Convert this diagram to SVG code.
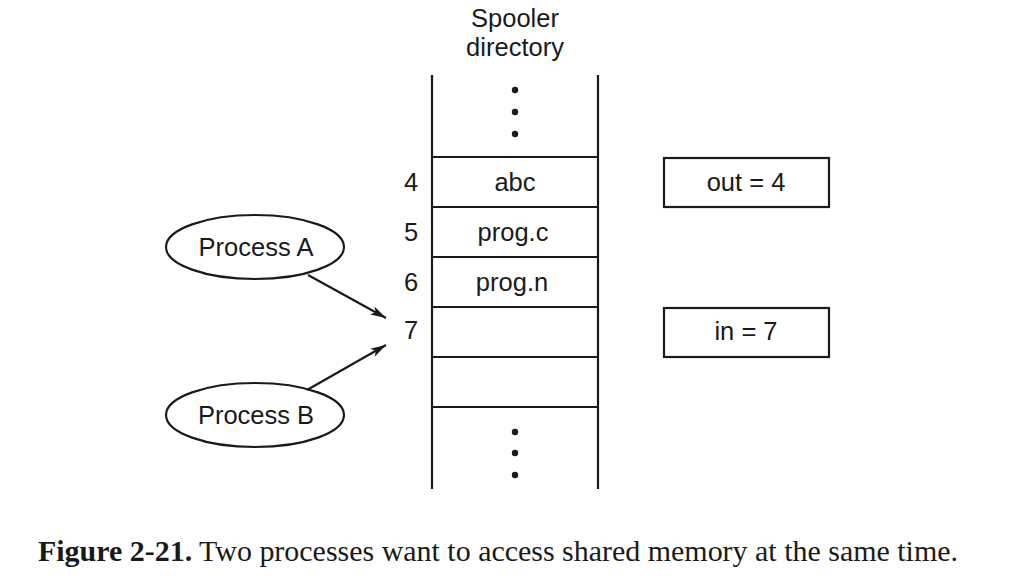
<svg xmlns="http://www.w3.org/2000/svg" width="1012" height="582" viewBox="0 0 1012 582">
<defs>
<style>
.t{font-family:"Liberation Sans",Arial,sans-serif;font-size:25.5px;fill:#1a1a1a;text-anchor:middle}
.ln{stroke:#1a1a1a;stroke-width:2.2;fill:none}
.dot{fill:#1a1a1a}
.cap{font-family:"Liberation Serif","Times New Roman",serif;font-size:29px;fill:#1a1a1a}
</style>
<marker id="ah" viewBox="0 0 12 10" refX="12" refY="5" markerWidth="16" markerHeight="13" markerUnits="userSpaceOnUse" orient="auto">
<path d="M0,1.5 L12,5 L0,8.5 L3,5 Z" fill="#1a1a1a"/>
</marker>
</defs>
<rect width="1012" height="582" fill="#fff"/>
<g id="spooler">
<text class="t" x="515" y="27">Spooler</text>
<text class="t" x="515" y="56">directory</text>
<line class="ln" x1="432" y1="75" x2="432" y2="489"/>
<line class="ln" x1="598" y1="75" x2="598" y2="489"/>
<line class="ln" x1="432" y1="157" x2="598" y2="157"/>
<line class="ln" x1="432" y1="207" x2="598" y2="207"/>
<line class="ln" x1="432" y1="257" x2="598" y2="257"/>
<line class="ln" x1="432" y1="307" x2="598" y2="307"/>
<line class="ln" x1="432" y1="357" x2="598" y2="357"/>
<line class="ln" x1="432" y1="407" x2="598" y2="407"/>
<circle class="dot" cx="515" cy="90" r="3.2"/>
<circle class="dot" cx="515" cy="112" r="3.2"/>
<circle class="dot" cx="515" cy="134" r="3.2"/>
<circle class="dot" cx="515" cy="432" r="3.2"/>
<circle class="dot" cx="515" cy="453" r="3.2"/>
<circle class="dot" cx="515" cy="475" r="3.2"/>
<text class="t" x="515" y="191">abc</text>
<text class="t" x="513" y="241">prog.c</text>
<text class="t" x="512" y="291">prog.n</text>
<text class="t" x="411" y="191">4</text>
<text class="t" x="411" y="241">5</text>
<text class="t" x="411" y="291">6</text>
<text class="t" x="411" y="339">7</text>
</g>
<g id="out">
<rect class="ln" x="664" y="158" width="165" height="49"/>
<text class="t" x="746" y="191">out = 4</text>
</g>
<g id="in">
<rect class="ln" x="664" y="308" width="165" height="49"/>
<text class="t" x="746" y="340">in = 7</text>
</g>
<g id="processA">
<ellipse class="ln" cx="255" cy="247" rx="89" ry="32"/>
<text class="t" x="256" y="256">Process A</text>
</g>
<g id="processB">
<ellipse class="ln" cx="255" cy="415" rx="89" ry="32"/>
<text class="t" x="256" y="424">Process B</text>
</g>
<g id="connectors">
<line class="ln" x1="308" y1="275" x2="386" y2="318" marker-end="url(#ah)"/>
<line class="ln" x1="307" y1="390" x2="386" y2="345" marker-end="url(#ah)"/>
</g>
<text class="cap" x="38" y="561" textLength="920" lengthAdjust="spacingAndGlyphs"><tspan font-weight="bold">Figure 2-21.</tspan>  Two processes want to access shared memory at the same time.</text>
</svg>
